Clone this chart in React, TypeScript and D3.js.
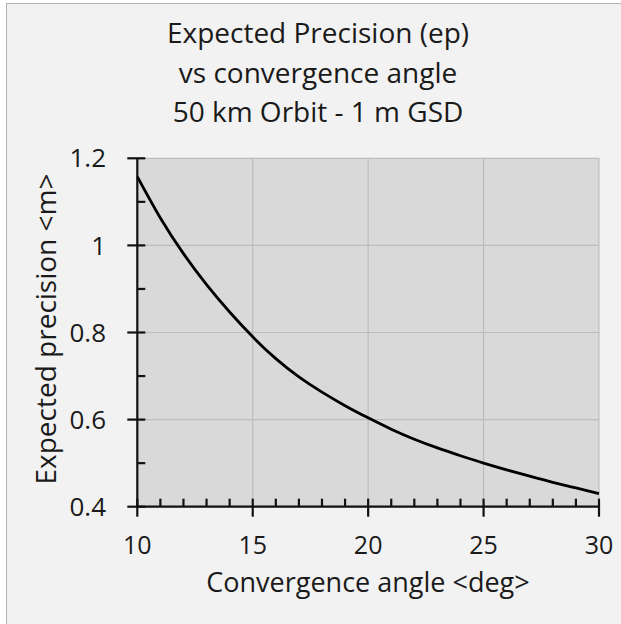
import React, { useMemo } from "react";
import * as d3 from "d3";

const WIDTH = 621;
const HEIGHT = 624;
const PLOT = { left: 137.3, right: 599, top: 158.3, bottom: 506.7 };
const FONT = "'Open Sans', 'Noto Sans', sans-serif";
const TEXT = "#1a1a1a";

const angles = [10, 11, 12, 13, 14, 15, 16, 17, 18, 19, 20, 21, 22, 23, 24, 25, 26, 27, 28, 29, 30];
const precision = [
  1.158, 1.063, 0.981, 0.91, 0.847, 0.79, 0.74, 0.698, 0.663, 0.632, 0.604,
  0.578, 0.555, 0.535, 0.517, 0.5, 0.4845, 0.47, 0.456, 0.443, 0.43,
];

const xTicks = [10, 15, 20, 25, 30];
const yTicks = [0.4, 0.6, 0.8, 1, 1.2];
const xMinor = [11, 12, 13, 14, 16, 17, 18, 19, 21, 22, 23, 24, 26, 27, 28, 29];
const yMinor = [0.5, 0.7, 0.9, 1.1];

const titleLines = ["Expected Precision (ep)", "vs convergence angle", "50 km Orbit - 1 m GSD"];
const xTitle = "Convergence angle <deg>";
const yTitle = "Expected precision <m>";

const App = () => {
  const xScale = d3.scaleLinear().domain([10, 30]).range([PLOT.left, PLOT.right]);
  const yScale = d3.scaleLinear().domain([0.4, 1.2]).range([PLOT.bottom, PLOT.top]);

  const path = useMemo(() => {
    const line = d3
      .line<number>()
      .x((d, i) => xScale(angles[i]))
      .y((d) => yScale(d))
      .curve(d3.curveNatural);
    return line(precision) || "";
  }, []);

  return (
    <div style={{ position: "absolute", left: 0, top: 0 }}>
      <svg width={WIDTH} height={HEIGHT} style={{ display: "block", background: "#ffffff" }}>
        <rect x={6.5} y={3.5} width={WIDTH + 20} height={HEIGHT + 20} fill="#f2f2f2" stroke="#b3b3b3" strokeWidth={1} />

        {titleLines.map((t, i) => (
          <text key={t} x={318} y={43 + i * 39.5} textAnchor="middle" fontFamily={FONT} fontSize={28} fill={TEXT}>
            {t}
          </text>
        ))}

        <rect
          x={PLOT.left}
          y={PLOT.top}
          width={PLOT.right - PLOT.left}
          height={PLOT.bottom - PLOT.top}
          fill="#d9d9d9"
        />

        {/* grid */}
        {xTicks.slice(1).map((v) => (
          <line key={"gx" + v} x1={xScale(v)} x2={xScale(v)} y1={PLOT.top} y2={PLOT.bottom} stroke="#bcbcbc" strokeWidth={1.2} />
        ))}
        {yTicks.slice(1).map((v) => (
          <line key={"gy" + v} x1={PLOT.left} x2={PLOT.right} y1={yScale(v)} y2={yScale(v)} stroke="#bcbcbc" strokeWidth={1.2} />
        ))}

        <path d={path} fill="none" stroke="#000000" strokeWidth={2.8} />

        {/* axes */}
        <g stroke="#111111" strokeWidth={2.2}>
          <line x1={PLOT.left} x2={PLOT.left} y1={PLOT.top} y2={PLOT.bottom} />
          <line x1={PLOT.left} x2={PLOT.right} y1={PLOT.bottom} y2={PLOT.bottom} />
          {yTicks.map((v) => (
            <line key={"ty" + v} x1={PLOT.left - 10} x2={PLOT.left + 8} y1={yScale(v)} y2={yScale(v)} />
          ))}
          {yMinor.map((v) => (
            <line key={"my" + v} x1={PLOT.left} x2={PLOT.left + 8} y1={yScale(v)} y2={yScale(v)} />
          ))}
          {xTicks.map((v) => (
            <line key={"tx" + v} x1={xScale(v)} x2={xScale(v)} y1={PLOT.bottom - 8} y2={PLOT.bottom + 10} />
          ))}
          {xMinor.map((v) => (
            <line key={"mx" + v} x1={xScale(v)} x2={xScale(v)} y1={PLOT.bottom - 8} y2={PLOT.bottom} />
          ))}
        </g>

        {yTicks.map((v) => (
          <text
            key={"ly" + v}
            x={106}
            y={yScale(v)}
            dy="0.35em"
            textAnchor="end"
            fontFamily={FONT}
            fontSize={26}
            fill={TEXT}
          >
            {d3.format("~g")(v)}
          </text>
        ))}
        {xTicks.map((v) => (
          <text key={"lx" + v} x={xScale(v)} y={554} textAnchor="middle" fontFamily={FONT} fontSize={25} fill={TEXT}>
            {v}
          </text>
        ))}

        <text x={368} y={592} textAnchor="middle" fontFamily={FONT} fontSize={27} fill={TEXT}>
          {xTitle}
        </text>
        <text
          transform={`translate(56,${329}) rotate(-90)`}
          textAnchor="middle"
          fontFamily={FONT}
          fontSize={28}
          fill={TEXT}
        >
          {yTitle}
        </text>
      </svg>
    </div>
  );
};

export default App;
